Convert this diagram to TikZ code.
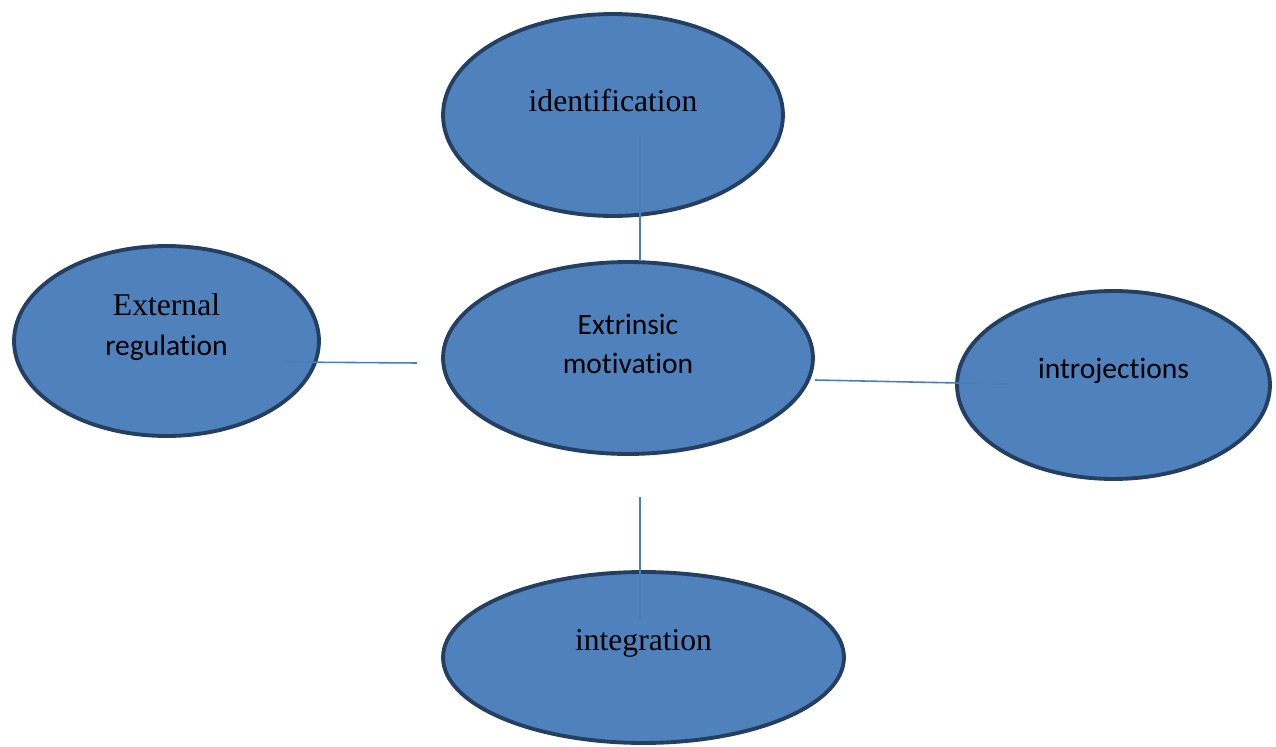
\documentclass[tikz,border=0pt]{standalone}
\usepackage{fontspec}
\setmainfont{Liberation Serif}
\setsansfont{Carlito}[Ligatures=NoCommon]
\usetikzlibrary{shapes}
\usetikzlibrary{positioning}
\definecolor{bubblefill}{HTML}{4F81BD}
\definecolor{bubbledraw}{HTML}{243F60}
\definecolor{linkblue}{HTML}{4A7EBB}
\tikzset{
    bubble/.style = {ellipse, line width=2.2pt, draw=bubbledraw, fill=bubblefill, inner sep=0pt},
    seriftext/.style = {font=\fontsize{18}{22.7}\selectfont\rmfamily, align=center, yshift=0.28cm},
    sanstext/.style = {font=\fontsize{16.8}{22.7}\selectfont\sffamily, align=center, yshift=0.28cm},
    link/.style = {line width=0.9pt, draw=linkblue}
}
\begin{document}
\begin{tikzpicture}[x=0.02cm,y=-0.02cm]
\useasboundingbox (0,0) rectangle (1276,747);
\node[bubble, minimum width=6.8cm, minimum height=4.04cm, label={[seriftext]center:identification}] at (613,115) (idf) {};
\node[bubble, minimum width=6.1cm, minimum height=3.8cm, label={[sanstext]center:{\fontsize{18}{22.7}\selectfont\rmfamily External}\\regulation}] at (166.5,341) (ext) {};
\node[bubble, minimum width=7.4cm, minimum height=3.84cm, label={[sanstext]center:Extrinsic\\motivation}] at (628,358) (em) {};
\node[bubble, minimum width=6.26cm, minimum height=3.76cm, label={[sanstext]center:introjections}] at (1113.5,385) (intro) {};
\node[bubble, minimum width=8.02cm, minimum height=3.42cm, label={[seriftext]center:integration}] at (643.5,657.5) (integ) {};
%
\coordinate (idin) at (640,135);
\coordinate (extin) at (285,362);
\coordinate (extout) at (417,363);
\coordinate (emright) at (815,380);
\coordinate (introin) at (1007,384);
\coordinate (emdown) at (640,497);
\coordinate (integin) at (640,618);
\draw[link] (idin) -- (idin |- em.north);
\draw[link] (extin) -- (extout);
\draw[link] (emright) -- (introin);
\draw[link] (emdown) -- (integin);
\end{tikzpicture}
\end{document}
